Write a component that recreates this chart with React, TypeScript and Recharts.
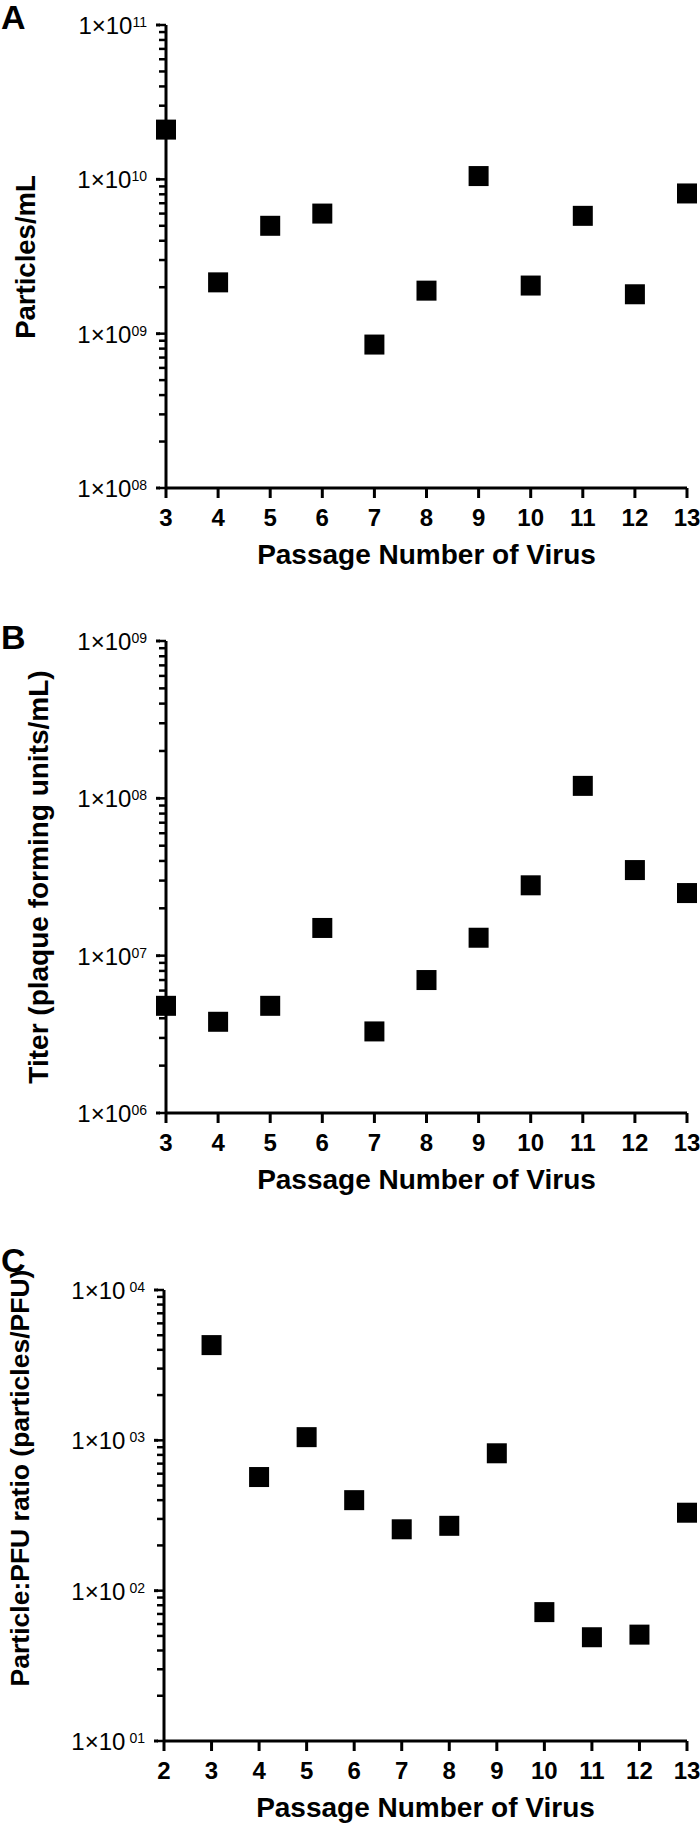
import React from 'react';
import { ScatterChart, Scatter, XAxis, YAxis } from 'recharts';

// ---------- data ----------
const passagesA = [3, 4, 5, 6, 7, 8, 9, 10, 11, 12, 13];
const particlesPerMl = [2.1e10, 2.15e9, 5.0e9, 6.0e9, 8.5e8, 1.9e9, 1.05e10, 2.05e9, 5.8e9, 1.8e9, 8.1e9];

const passagesB = [3, 4, 5, 6, 7, 8, 9, 10, 11, 12, 13];
const titerPfuPerMl = [4.8e6, 3.8e6, 4.8e6, 1.5e7, 3.3e6, 7.0e6, 1.3e7, 2.8e7, 1.2e8, 3.5e7, 2.5e7];

const passagesC = [3, 4, 5, 6, 7, 8, 9, 10, 11, 12, 13];
const particlePfuRatio = [4300, 570, 1050, 400, 256, 270, 820, 72, 49, 51, 330];

const xTicksAB = [3, 4, 5, 6, 7, 8, 9, 10, 11, 12, 13];
const xTicksC = [2, 3, 4, 5, 6, 7, 8, 9, 10, 11, 12, 13];

const yMajorA = [1e8, 1e9, 1e10, 1e11];
const yExpA = ['08', '09', '10', '11'];
const yMajorB = [1e6, 1e7, 1e8, 1e9];
const yExpB = ['06', '07', '08', '09'];
const yMajorC = [1e1, 1e2, 1e3, 1e4];
const yExpC = ['01', '02', '03', '04'];
const minorMultipliers = [2, 3, 4, 5, 6, 7, 8, 9];

const FONT = "'Liberation Sans', Arial, Helvetica, sans-serif";

const buildTicks = (majors: number[]) => {
  const out: number[] = [];
  majors.forEach((m, i) => {
    out.push(m);
    if (i < majors.length - 1) minorMultipliers.forEach((k) => out.push(m * k));
  });
  return out;
};

const Square = (props: any) => {
  const { cx, cy } = props;
  if (cx == null || cy == null) return null;
  return <rect x={cx - 10} y={cy - 10} width={20} height={20} fill="#000" />;
};

// built-in tick line is 7px long; majors get a 3px extension plus the label
const makeYTick = (majors: number[], exps: string[], supGap: number) => (props: any) => {
  const { x, y, payload } = props;
  const v = payload.value;
  const idx = majors.findIndex((m) => Math.abs(m - v) < m * 1e-6);
  if (idx < 0) return <g />;
  return (
    <g>
      <path d={`M${x + 1},${y}H${x - 3}`} stroke="#000" strokeWidth={3} fill="none" />
      <text x={x - 12} y={y + 9} textAnchor="end" fontFamily={FONT} fontSize={24} fill="#000">
        1×10
        <tspan fontSize={14} dx={supGap} dy={-7}>
          {exps[idx]}
        </tspan>
      </text>
    </g>
  );
};

const XTick = (props: any) => {
  const { x, y, payload } = props;
  return (
    <text x={x} y={y + 28} textAnchor="middle" fontFamily={FONT} fontWeight="bold" fontSize={24} fill="#000">
      {payload.value}
    </text>
  );
};

type PanelProps = {
  top: number;
  height: number;
  marginTop: number;
  xAxisHeight: number;
  yAxisWidth: number;
  xs: number[];
  ys: number[];
  xDomain: [number, number];
  xTicks: number[];
  majors: number[];
  exps: string[];
  supGap: number;
  yTitle: string;
  yTitleX: number;
  yTitleCenterY: number;
  yTitleSize: number;
  letter: string;
  letterTop: number;
};

const Panel = (p: PanelProps) => {
  const data = p.xs.map((x, i) => ({ x, y: p.ys[i] }));
  const yTicks = buildTicks(p.majors);
  const yDomain: [number, number] = [p.majors[0], p.majors[p.majors.length - 1]];
  return (
    <div style={{ position: 'absolute', left: 0, top: p.top, width: 700, height: p.height }}>
      <ScatterChart
        width={700}
        height={p.height}
        margin={{ top: p.marginTop, right: 13, left: 0, bottom: 0 }}
      >
        <XAxis
          type="number"
          dataKey="x"
          domain={p.xDomain}
          ticks={p.xTicks}
          interval={0}
          height={p.xAxisHeight}
          axisLine={{ stroke: '#000', strokeWidth: 3 }}
          tickLine={{ stroke: '#000', strokeWidth: 3 }}
          tickSize={10}
          tickMargin={0}
          tick={XTick}
          label={(lp: any) => {
            const vb = lp.viewBox || {};
            return (
              <text
                x={vb.x + vb.width / 2}
                y={vb.y + 76}
                textAnchor="middle"
                fontFamily={FONT}
                fontWeight="bold"
                fontSize={28}
                fill="#000"
              >
                Passage Number of Virus
              </text>
            );
          }}
        />
        <YAxis
          type="number"
          dataKey="y"
          scale="log"
          domain={yDomain}
          allowDataOverflow
          ticks={yTicks}
          interval={0}
          width={p.yAxisWidth}
          axisLine={{ stroke: '#000', strokeWidth: 3 }}
          tickLine={{ stroke: '#000', strokeWidth: 2.5 }}
          tickSize={7}
          tickMargin={0}
          tick={makeYTick(p.majors, p.exps, p.supGap)}
          label={() => (
            <text
              x={p.yTitleX}
              y={p.yTitleCenterY}
              transform={`rotate(-90, ${p.yTitleX}, ${p.yTitleCenterY})`}
              textAnchor="middle"
              fontFamily={FONT}
              fontWeight="bold"
              fontSize={p.yTitleSize}
              fill="#000"
            >
              {p.yTitle}
            </text>
          )}
        />
        <Scatter data={data} shape={Square} isAnimationActive={false} />
      </ScatterChart>
      <div
        style={{
          position: 'absolute',
          left: 1,
          top: p.letterTop,
          fontFamily: FONT,
          fontWeight: 'bold',
          fontSize: 34,
          lineHeight: '34px',
          color: '#000',
        }}
      >
        {p.letter}
      </div>
    </div>
  );
};

export default function App() {
  return (
    <div style={{ position: 'absolute', left: 0, top: 0, width: 700, height: 1826, background: '#fff' }}>
      <Panel
        top={0}
        height={600}
        marginTop={25}
        xAxisHeight={112}
        yAxisWidth={166}
        xs={passagesA}
        ys={particlesPerMl}
        xDomain={[3, 13]}
        xTicks={xTicksAB}
        majors={yMajorA}
        exps={yExpA}
        supGap={0}
        yTitle="Particles/mL"
        yTitleX={35}
        yTitleCenterY={257}
        yTitleSize={27.5}
        letter="A"
        letterTop={0}
      />
      <Panel
        top={600}
        height={600}
        marginTop={41}
        xAxisHeight={87}
        yAxisWidth={166}
        xs={passagesB}
        ys={titerPfuPerMl}
        xDomain={[3, 13]}
        xTicks={xTicksAB}
        majors={yMajorB}
        exps={yExpB}
        supGap={0}
        yTitle="Titer (plaque forming units/mL)"
        yTitleX={48}
        yTitleCenterY={277}
        yTitleSize={28}
        letter="B"
        letterTop={20}
      />
      <Panel
        top={1230}
        height={596}
        marginTop={60}
        xAxisHeight={85}
        yAxisWidth={164}
        xs={passagesC}
        ys={particlePfuRatio}
        xDomain={[2, 13]}
        xTicks={xTicksC}
        majors={yMajorC}
        exps={yExpC}
        supGap={4}
        yTitle="Particle:PFU ratio (particles/PFU)"
        yTitleX={29}
        yTitleCenterY={248}
        yTitleSize={26.5}
        letter="C"
        letterTop={13}
      />
    </div>
  );
}
